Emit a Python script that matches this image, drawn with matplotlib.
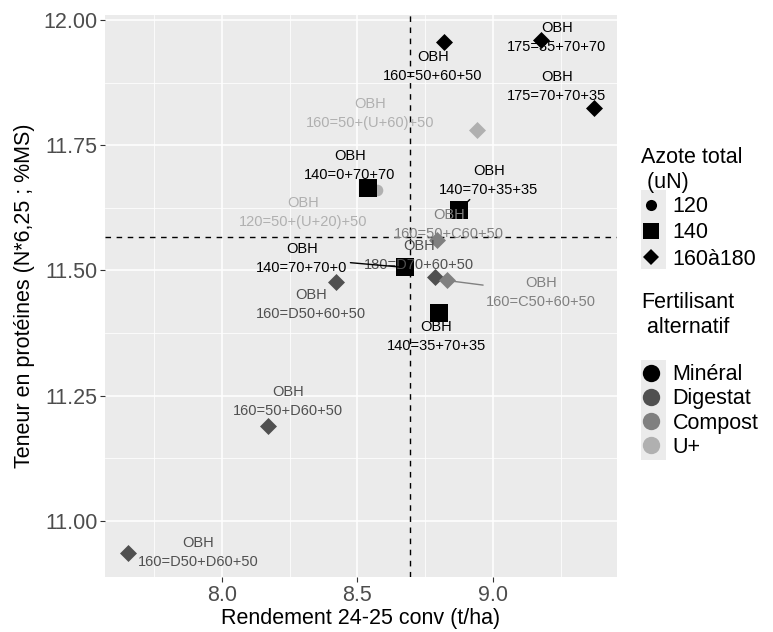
import matplotlib
matplotlib.use("Agg")
import matplotlib.pyplot as plt
from matplotlib.lines import Line2D
from matplotlib.patches import Rectangle
import numpy as np

plt.rcParams['font.family'] = ['Liberation Sans', 'DejaVu Sans']

# ---- data ----
treatments = ["160=50+60+50", "175=35+70+70", "175=70+70+35", "160=50+(U+60)+50",
              "140=0+70+70", "120=50+(U+20)+50", "140=70+35+35", "160=50+C60+50",
              "180=D70+60+50", "140=70+70+0", "160=C50+60+50", "140=35+70+35",
              "160=D50+60+50", "160=50+D60+50", "160=D50+D60+50"]
rendement = [8.819, 9.177, 9.373, 8.941, 8.539, 8.572, 8.875, 8.793,
             8.786, 8.675, 8.830, 8.800, 8.420, 8.170, 7.653]
proteines = [11.956, 11.960, 11.824, 11.780, 11.664, 11.660, 11.620, 11.560,
             11.486, 11.506, 11.480, 11.416, 11.476, 11.190, 10.936]
azote = ["160à180", "160à180", "160à180", "160à180", "140", "120", "140", "160à180",
         "160à180", "140", "160à180", "140", "160à180", "160à180", "160à180"]
fertilisant = ["Minéral", "Minéral", "Minéral", "U+", "Minéral", "U+", "Minéral", "Compost",
               "Digestat", "Minéral", "Compost", "Minéral", "Digestat", "Digestat", "Digestat"]
variety = "OBH"

azote_levels = ["120", "140", "160à180"]
fert_levels = ["Minéral", "Digestat", "Compost", "U+"]

# ---- styles / layout ----
fert_colors = {"Minéral": "#000000", "Digestat": "#505050", "Compost": "#808080", "U+": "#b0b0b0"}
azote_markers = {"120": ("o", 70), "140": ("s", 150), "160à180": ("D", 75)}
# repelled label centres (layout)
label_pos = [(8.779, 11.908), (9.236, 11.966), (9.236, 11.868), (8.546, 11.814),
             (8.472, 11.710), (8.299, 11.616), (8.985, 11.680), (8.838, 11.592),
             (8.727, 11.530), (8.295, 11.524), (9.177, 11.456), (8.790, 11.368),
             (8.328, 11.432), (8.244, 11.238), (7.911, 10.936)]
with_segment = {"140=70+35+35", "140=70+70+0", "160=C50+60+50"}

fig = plt.figure(figsize=(7.73, 6.32), dpi=100)
ax = fig.add_axes([105/773, 1-577/632, 512/773, 562/632])
ax.set_facecolor("#ebebeb")
for s in ax.spines.values():
    s.set_visible(False)

ax.set_xlim(7.568, 9.458)
ax.set_ylim(10.888, 12.01)
ax.set_xticks([8.0, 8.5, 9.0])
ax.set_xticklabels(["8.0", "8.5", "9.0"])
ax.set_yticks([11.0, 11.25, 11.5, 11.75, 12.0])
ax.set_yticklabels(["11.00", "11.25", "11.50", "11.75", "12.00"])
ax.set_xticks([7.75, 8.25, 8.75, 9.25], minor=True)
ax.set_yticks([11.125, 11.375, 11.625, 11.875], minor=True)
ax.grid(which="major", color="white", linewidth=1.1)
ax.grid(which="minor", color="white", linewidth=0.55)
ax.set_axisbelow(True)
ax.tick_params(which="major", length=3.5, width=0.8, color="#333333",
               labelsize=15.5, labelcolor="#4d4d4d", pad=2)
ax.tick_params(which="minor", length=0)

x = np.array(rendement)
y = np.array(proteines)
ax.axvline(x.mean(), color="black", linestyle=(0, (4, 4)), linewidth=1.0, zorder=1.5)
ax.axhline(y.mean(), color="black", linestyle=(0, (4, 4)), linewidth=1.0, zorder=1.5)

for az in azote_levels:
    for fe in fert_levels:
        idx = [i for i in range(len(x)) if azote[i] == az and fertilisant[i] == fe]
        if not idx:
            continue
        m, s = azote_markers[az]
        ax.scatter(x[idx], y[idx], marker=m, s=s, color=fert_colors[fe],
                   linewidths=0, zorder=3)

for i, t in enumerate(treatments):
    col = fert_colors[fertilisant[i]]
    lx, ly = label_pos[i]
    if t in with_segment:
        ax.annotate(f"{variety}\n{t}", xy=(x[i], y[i]), xytext=(lx, ly),
                    ha="center", va="center", fontsize=10.5, color=col,
                    linespacing=1.45, zorder=4,
                    arrowprops=dict(arrowstyle="-", color=col, lw=1.0,
                                    shrinkA=0, shrinkB=4))
    else:
        ax.text(lx, ly, f"{variety}\n{t}", ha="center", va="center",
                fontsize=10.5, color=col, linespacing=1.45, zorder=4)

ax.set_xlabel("Rendement 24-25 conv (t/ha)", fontsize=15.5, labelpad=2)
ax.set_ylabel("Teneur en protéines (N*6,25 ; %MS)", fontsize=15.5, labelpad=6)

# ---- legends ----
fig.text(641/773, 1-170/632, "Azote total\n (uN)", fontsize=15.5, ha="left",
         va="center", linespacing=1.25)
fig.text(641/773, 1-315/632, "Fertilisant\n alternatif", fontsize=15.5, ha="left",
         va="center", linespacing=1.25)

h1 = [Line2D([], [], linestyle="none", marker=azote_markers[a][0],
             markersize={"120": 8, "140": 12, "160à180": 8.5}[a],
             color="black", markeredgewidth=0) for a in azote_levels]
leg1 = fig.legend(h1, azote_levels, loc="center left",
                  bbox_to_anchor=(634/773, 1-233/632), frameon=False,
                  fontsize=15.5, handlelength=1.0, handletextpad=0.5,
                  labelspacing=0.25, borderaxespad=0, borderpad=0.3)
h2 = [Line2D([], [], linestyle="none", marker="o", markersize=12.5,
             color=fert_colors[f], markeredgewidth=0) for f in fert_levels]
leg2 = fig.legend(h2, fert_levels, loc="center left",
                  bbox_to_anchor=(634/773, 1-411/632), frameon=False,
                  fontsize=15.5, handlelength=1.0, handletextpad=0.5,
                  labelspacing=0.15, borderaxespad=0, borderpad=0.3)

fig.patches.append(Rectangle((641/773, 1-269/632), 25/773, 79/632,
                             transform=fig.transFigure, facecolor="#ebebeb",
                             edgecolor="none", zorder=0))
fig.patches.append(Rectangle((641/773, 1-460/632), 25/773, 100/632,
                             transform=fig.transFigure, facecolor="#ebebeb",
                             edgecolor="none", zorder=0))

fig.savefig("out.png", dpi=100)
